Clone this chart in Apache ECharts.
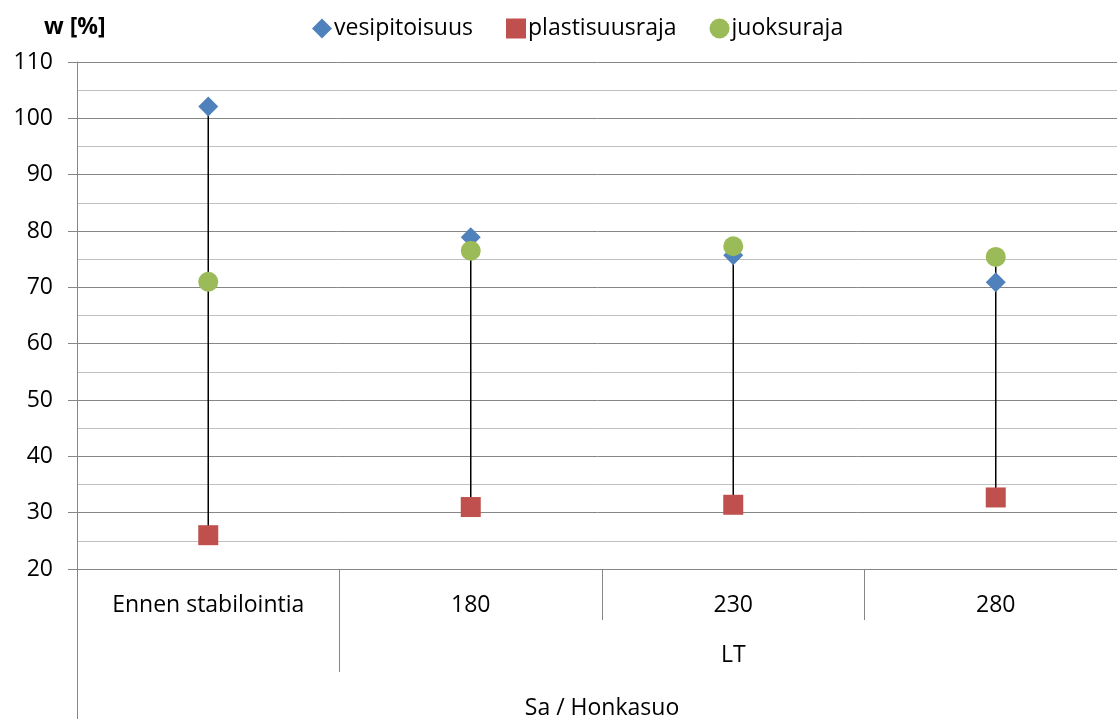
<!DOCTYPE html>
<html>
<head>
<meta charset="utf-8">
<script src="https://cdn.jsdelivr.net/npm/echarts@6/dist/echarts.min.js"></script>
<style>
html,body{margin:0;padding:0;background:#fff;}
#chart{width:1117px;height:719px;}
</style>
</head>
<body>
<div id="chart"></div>
<script>
var categories = ['Ennen stabilointia', '180', '230', '280'];
var groupLevel2 = 'LT';
var groupLevel3 = 'Sa / Honkasuo';
var vesipitoisuus = [102.1, 78.9, 75.7, 70.9];
var plastisuusraja = [26.0, 31.0, 31.4, 32.7];
var juoksuraja = [71.0, 76.5, 77.3, 75.4];
var yTicks = [20, 30, 40, 50, 60, 70, 80, 90, 100, 110];

var FONT = 'Open Sans';
var FS = 23;
var chart = echarts.init(document.getElementById('chart'));

var rangeData = categories.map(function (c, i) {
  var v = [vesipitoisuus[i], plastisuusraja[i], juoksuraja[i]];
  return [i, Math.min.apply(null, v), Math.max.apply(null, v)];
});

var option = {
  animation: false,
  textStyle: { fontFamily: FONT },
  graphic: [{
    type: 'text', left: 44, top: 16,
    style: { text: 'w [%]', font: 'bold 23px "' + FONT + '"', fill: '#000' }
  }],
  legend: {
    top: 12, left: 307, itemGap: 33, itemWidth: 20, itemHeight: 20,
    textStyle: { fontFamily: FONT, fontSize: FS, color: '#000', padding: [0, 0, 0, -3] },
    data: [
      { name: 'vesipitoisuus', icon: 'diamond' },
      { name: 'plastisuusraja', icon: 'rect' },
      { name: 'juoksuraja', icon: 'circle' }
    ]
  },
  grid: { left: 77, top: 62, width: 1050, height: 507, outerBoundsMode: 'none', containLabel: false },
  xAxis: [{
    type: 'category', data: categories, position: 'bottom',
    boundaryGap: true,
    axisLine: { lineStyle: { color: '#868686', width: 1 } },
    axisTick: { show: true, interval: 0, length: 51, lineStyle: { color: '#868686' } },
    axisLabel: { interval: 0, margin: 25, fontSize: FS, color: '#000', fontFamily: FONT }
  }, {
    type: 'value', min: 0, max: 4, position: 'bottom', offset: 51,
    axisLine: { show: false },
    splitLine: { show: false },
    axisTick: { show: true, length: 52, customValues: [0, 1], lineStyle: { color: '#868686' } },
    axisLabel: { customValues: [2.5], formatter: function () { return groupLevel2; },
      margin: 24, fontSize: FS, color: '#000', fontFamily: FONT }
  }, {
    type: 'value', min: 0, max: 4, position: 'bottom', offset: 103,
    axisLine: { show: false },
    splitLine: { show: false },
    axisTick: { show: true, length: 50, customValues: [0], lineStyle: { color: '#868686' } },
    axisLabel: { customValues: [2], formatter: function () { return groupLevel3; },
      margin: 25, fontSize: FS, color: '#000', fontFamily: FONT }
  }],
  yAxis: {
    type: 'value', min: 20, max: 110, interval: 10,
    axisLine: { show: true, lineStyle: { color: '#868686' } },
    axisTick: { show: true, length: 9, lineStyle: { color: '#868686' } },
    axisLabel: { margin: 24, fontSize: FS, color: '#000', fontFamily: FONT,
      formatter: function (v) { return yTicks.indexOf(v) >= 0 ? String(v) : ''; } },
    splitLine: { show: true, lineStyle: { color: '#868686', width: 1 } },
    minorTick: { show: false, splitNumber: 2 },
    minorSplitLine: { show: true, lineStyle: { color: '#c0c0c0', width: 1 } }
  },
  series: [{
    type: 'custom', name: 'hilo', xAxisIndex: 0, yAxisIndex: 0,
    data: rangeData, encode: { x: 0, y: [1, 2] }, z: 1,
    renderItem: function (params, api) {
      var a = api.coord([api.value(0), api.value(1)]);
      var b = api.coord([api.value(0), api.value(2)]);
      return { type: 'line', shape: { x1: a[0], y1: a[1], x2: b[0], y2: b[1] },
        style: { stroke: '#000', lineWidth: 1.5 } };
    }
  }, {
    name: 'vesipitoisuus', type: 'scatter', xAxisIndex: 0, data: vesipitoisuus,
    symbol: 'diamond', symbolSize: 20, z: 3, itemStyle: { color: '#4F81BD', opacity: 1 }
  }, {
    name: 'plastisuusraja', type: 'scatter', xAxisIndex: 0, data: plastisuusraja,
    symbol: 'rect', symbolSize: 20, z: 4, itemStyle: { color: '#C0504D', opacity: 1 }
  }, {
    name: 'juoksuraja', type: 'scatter', xAxisIndex: 0, data: juoksuraja,
    symbol: 'circle', symbolSize: 20, z: 5, itemStyle: { color: '#9BBB59', opacity: 1 }
  }]
};
chart.setOption(option);
</script>
</body>
</html>
